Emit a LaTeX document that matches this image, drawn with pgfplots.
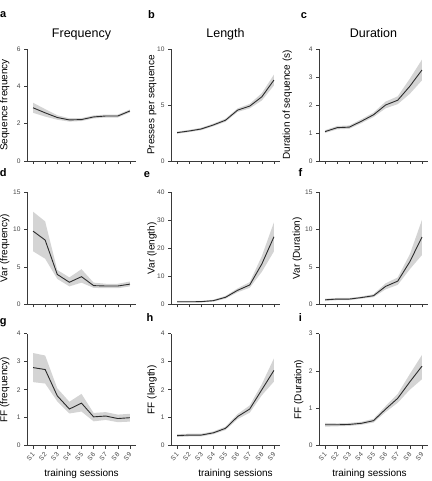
\documentclass[border=0pt]{standalone}
\usepackage{fontspec}
\setmainfont{Liberation Sans}
\usepackage{pgfplots}
\pgfplotsset{compat=1.18}
\usepackage{pgfplotstable}
\usepgfplotslibrary{fillbetween}

\definecolor{meanline}{HTML}{2C2C2C}
\definecolor{bandgray}{HTML}{D4D4D4}
\definecolor{axisgray}{HTML}{3A3A3A}
\definecolor{ticktext}{HTML}{444444}

% session, mean, lower and upper edge of the shaded band
\pgfplotstableread{
s m lo hi
1 2.85 2.58 3.12
2 2.58 2.38 2.78
3 2.33 2.21 2.45
4 2.20 2.11 2.29
5 2.22 2.14 2.30
6 2.36 2.28 2.44
7 2.41 2.33 2.49
8 2.41 2.33 2.49
9 2.68 2.60 2.76
}\freqmean
\pgfplotstableread{
s m lo hi
1 2.53 2.43 2.63
2 2.68 2.58 2.78
3 2.86 2.75 2.97
4 3.22 3.10 3.34
5 3.64 3.50 3.78
6 4.54 4.38 4.70
7 4.90 4.70 5.10
8 5.73 5.40 6.06
9 7.23 6.75 7.71
}\lenmean
\pgfplotstableread{
s m lo hi
1 1.05 1.00 1.10
2 1.19 1.13 1.25
3 1.21 1.15 1.27
4 1.42 1.35 1.49
5 1.65 1.57 1.73
6 2.00 1.88 2.12
7 2.17 2.03 2.31
8 2.67 2.40 2.94
9 3.25 2.88 3.62
}\durmean
\pgfplotstableread{
s m lo hi
1 9.80 7.10 12.40
2 8.60 6.10 11.10
3 4.00 3.40 4.60
4 2.95 2.40 3.60
5 3.70 2.90 4.70
6 2.50 2.20 2.90
7 2.45 2.15 2.75
8 2.45 2.15 2.75
9 2.70 2.40 3.05
}\freqvar
\pgfplotstableread{
s m lo hi
1 0.90 0.60 1.20
2 0.90 0.60 1.20
3 0.95 0.65 1.25
4 1.30 0.95 1.65
5 2.50 2.00 3.00
6 5.00 4.30 5.70
7 6.90 5.90 7.90
8 14.40 11.60 17.20
9 24.10 18.90 29.30
}\lenvar
\pgfplotstableread{
s m lo hi
1 0.60 0.45 0.75
2 0.70 0.55 0.85
3 0.70 0.55 0.85
4 0.90 0.75 1.05
5 1.15 0.95 1.35
6 2.40 2.00 2.80
7 3.10 2.60 3.60
8 5.70 4.70 6.70
9 9.00 6.60 11.30
}\durvar
\pgfplotstableread{
s m lo hi
1 2.79 2.27 3.31
2 2.72 2.22 3.22
3 1.78 1.58 2.05
4 1.31 1.15 1.57
5 1.52 1.22 1.85
6 1.03 0.87 1.17
7 1.06 0.92 1.20
8 0.97 0.84 1.11
9 1.00 0.86 1.14
}\freqff
\pgfplotstableread{
s m lo hi
1 0.36 0.31 0.41
2 0.38 0.33 0.43
3 0.38 0.33 0.43
4 0.46 0.41 0.51
5 0.62 0.56 0.68
6 1.04 0.95 1.13
7 1.31 1.18 1.44
8 2.00 1.80 2.20
9 2.69 2.29 3.12
}\lenff
\pgfplotstableread{
s m lo hi
1 0.56 0.51 0.61
2 0.56 0.52 0.60
3 0.57 0.53 0.61
4 0.60 0.56 0.64
5 0.67 0.62 0.72
6 0.98 0.90 1.06
7 1.27 1.15 1.39
8 1.71 1.50 1.92
9 2.13 1.78 2.43
}\durff

% mean line over its shaded band
\newcommand\meanband[2]{%
  \addplot[draw=none, name path=hi#2] table[x=s, y=hi] {#1};
  \addplot[draw=none, name path=lo#2] table[x=s, y=lo] {#1};
  \addplot[bandgray, draw=none] fill between[of=hi#2 and lo#2];
  \addplot[meanline, line width=0.9pt] table[x=s, y=m] {#1};
}

\pgfplotsset{
  panel/.style={
    scale only axis, width=109pt, height=112pt,
    anchor=south west,
    axis lines=left, axis line style={-, axisgray, line width=0.6pt},
    xmin=0.5, xmax=9.5, xtick={1,2,3,4,5,6,7,8,9},
    tick align=outside, major tick length=3pt,
    tick style={axisgray, line width=0.6pt},
    every tick label/.append style={font=\fontsize{6.6}{7}\selectfont, text=ticktext},
    /pgf/number format/assume math mode=true,
    every axis y label/.style={rotate=90, anchor=center,
      font=\fontsize{10}{11}\selectfont},
    title style={at={(axis description cs:0.5,1)}, anchor=base,
      yshift=5.5pt, font=\fontsize{12.5}{13}\selectfont},
  },
  nolab/.style={xticklabels={}},
  sessions/.style={
    xticklabels={S1,S2,S3,S4,S5,S6,S7,S8,S9},
    xticklabel style={xshift=3pt, yshift=-2.5pt, rotate=45, anchor=east},
    xlabel={training sessions},
    every axis x label/.style={at={(axis description cs:0.5,0)}, anchor=base,
      yshift=-30.5pt, font=\fontsize{10}{11}\selectfont},
  },
  ylab/.style={every axis y label/.append style={at={(axis description cs:#1,0.5)}}},
}

\begin{document}
\begin{tikzpicture}

% ---- row 1: means
\begin{axis}[panel, nolab, at={(27pt,320pt)}, ymin=0, ymax=6, ytick={0,2,4,6},
  title={Frequency}, ylabel={Sequence frequency}, ylab=-0.203]
\meanband{\freqmean}{a}
\end{axis}
\begin{axis}[panel, nolab, at={(171pt,320pt)}, ymin=0, ymax=10, ytick={0,5,10},
  title={Length}, ylabel={Presses per sequence}, ylab=-0.175]
\meanband{\lenmean}{b}
\end{axis}
\begin{axis}[panel, nolab, at={(319pt,320pt)}, ymin=0, ymax=4, ytick={0,1,2,3,4},
  title={Duration}, ylabel={Duration of sequence (s)}, ylab=-0.29]
\meanband{\durmean}{c}
\end{axis}

% ---- row 2: variances
\begin{axis}[panel, nolab, at={(27pt,176.7pt)}, ymin=0, ymax=15, ytick={0,5,10,15},
  ylabel={Var (frequency)}, ylab=-0.203]
\meanband{\freqvar}{d}
\end{axis}
\begin{axis}[panel, nolab, at={(171pt,176.7pt)}, ymin=0, ymax=40, ytick={0,10,20,30,40},
  ylabel={Var (length)}, ylab=-0.175]
\meanband{\lenvar}{e}
\end{axis}
\begin{axis}[panel, nolab, at={(319pt,176.7pt)}, ymin=0, ymax=15, ytick={0,5,10,15},
  ylabel={Var (Duration)}, ylab=-0.2]
\meanband{\durvar}{f}
\end{axis}

% ---- row 3: Fano factors
\begin{axis}[panel, sessions, at={(27pt,35.3pt)}, ymin=0, ymax=4, ytick={0,1,2,3,4},
  ylabel={FF (frequency)}, ylab=-0.203]
\meanband{\freqff}{g}
\end{axis}
\begin{axis}[panel, sessions, at={(171pt,35.3pt)}, ymin=0, ymax=4, ytick={0,1,2,3,4},
  ylabel={FF (length)}, ylab=-0.175,
  every axis x label/.append style={xshift=10pt}]
\meanband{\lenff}{h}
\end{axis}
\begin{axis}[panel, sessions, at={(319pt,35.3pt)}, ymin=0, ymax=3, ytick={0,1,2,3},
  ylabel={FF (Duration)}, ylab=-0.185,
  every axis x label/.append style={xshift=-4pt}]
\meanband{\durff}{i}
\end{axis}

% panel letters
\begin{scope}[every node/.style={anchor=base, font=\bfseries\fontsize{11}{12}\selectfont, inner sep=0pt}]
\node at (3.2pt,463pt) {a};
\node at (151.5pt,462.7pt) {b};
\node at (304pt,462.7pt) {c};
\node at (3.2pt,304.3pt) {d};
\node at (147pt,303.5pt) {e};
\node at (300.5pt,304pt) {f};
\node at (3.2pt,156pt) {g};
\node at (150pt,159.3pt) {h};
\node at (300.5pt,159.3pt) {i};
\end{scope}

% fixed page frame
\pgfresetboundingbox
\path[use as bounding box] (0pt,0pt) rectangle (431pt,481pt);
\end{tikzpicture}
\end{document}
